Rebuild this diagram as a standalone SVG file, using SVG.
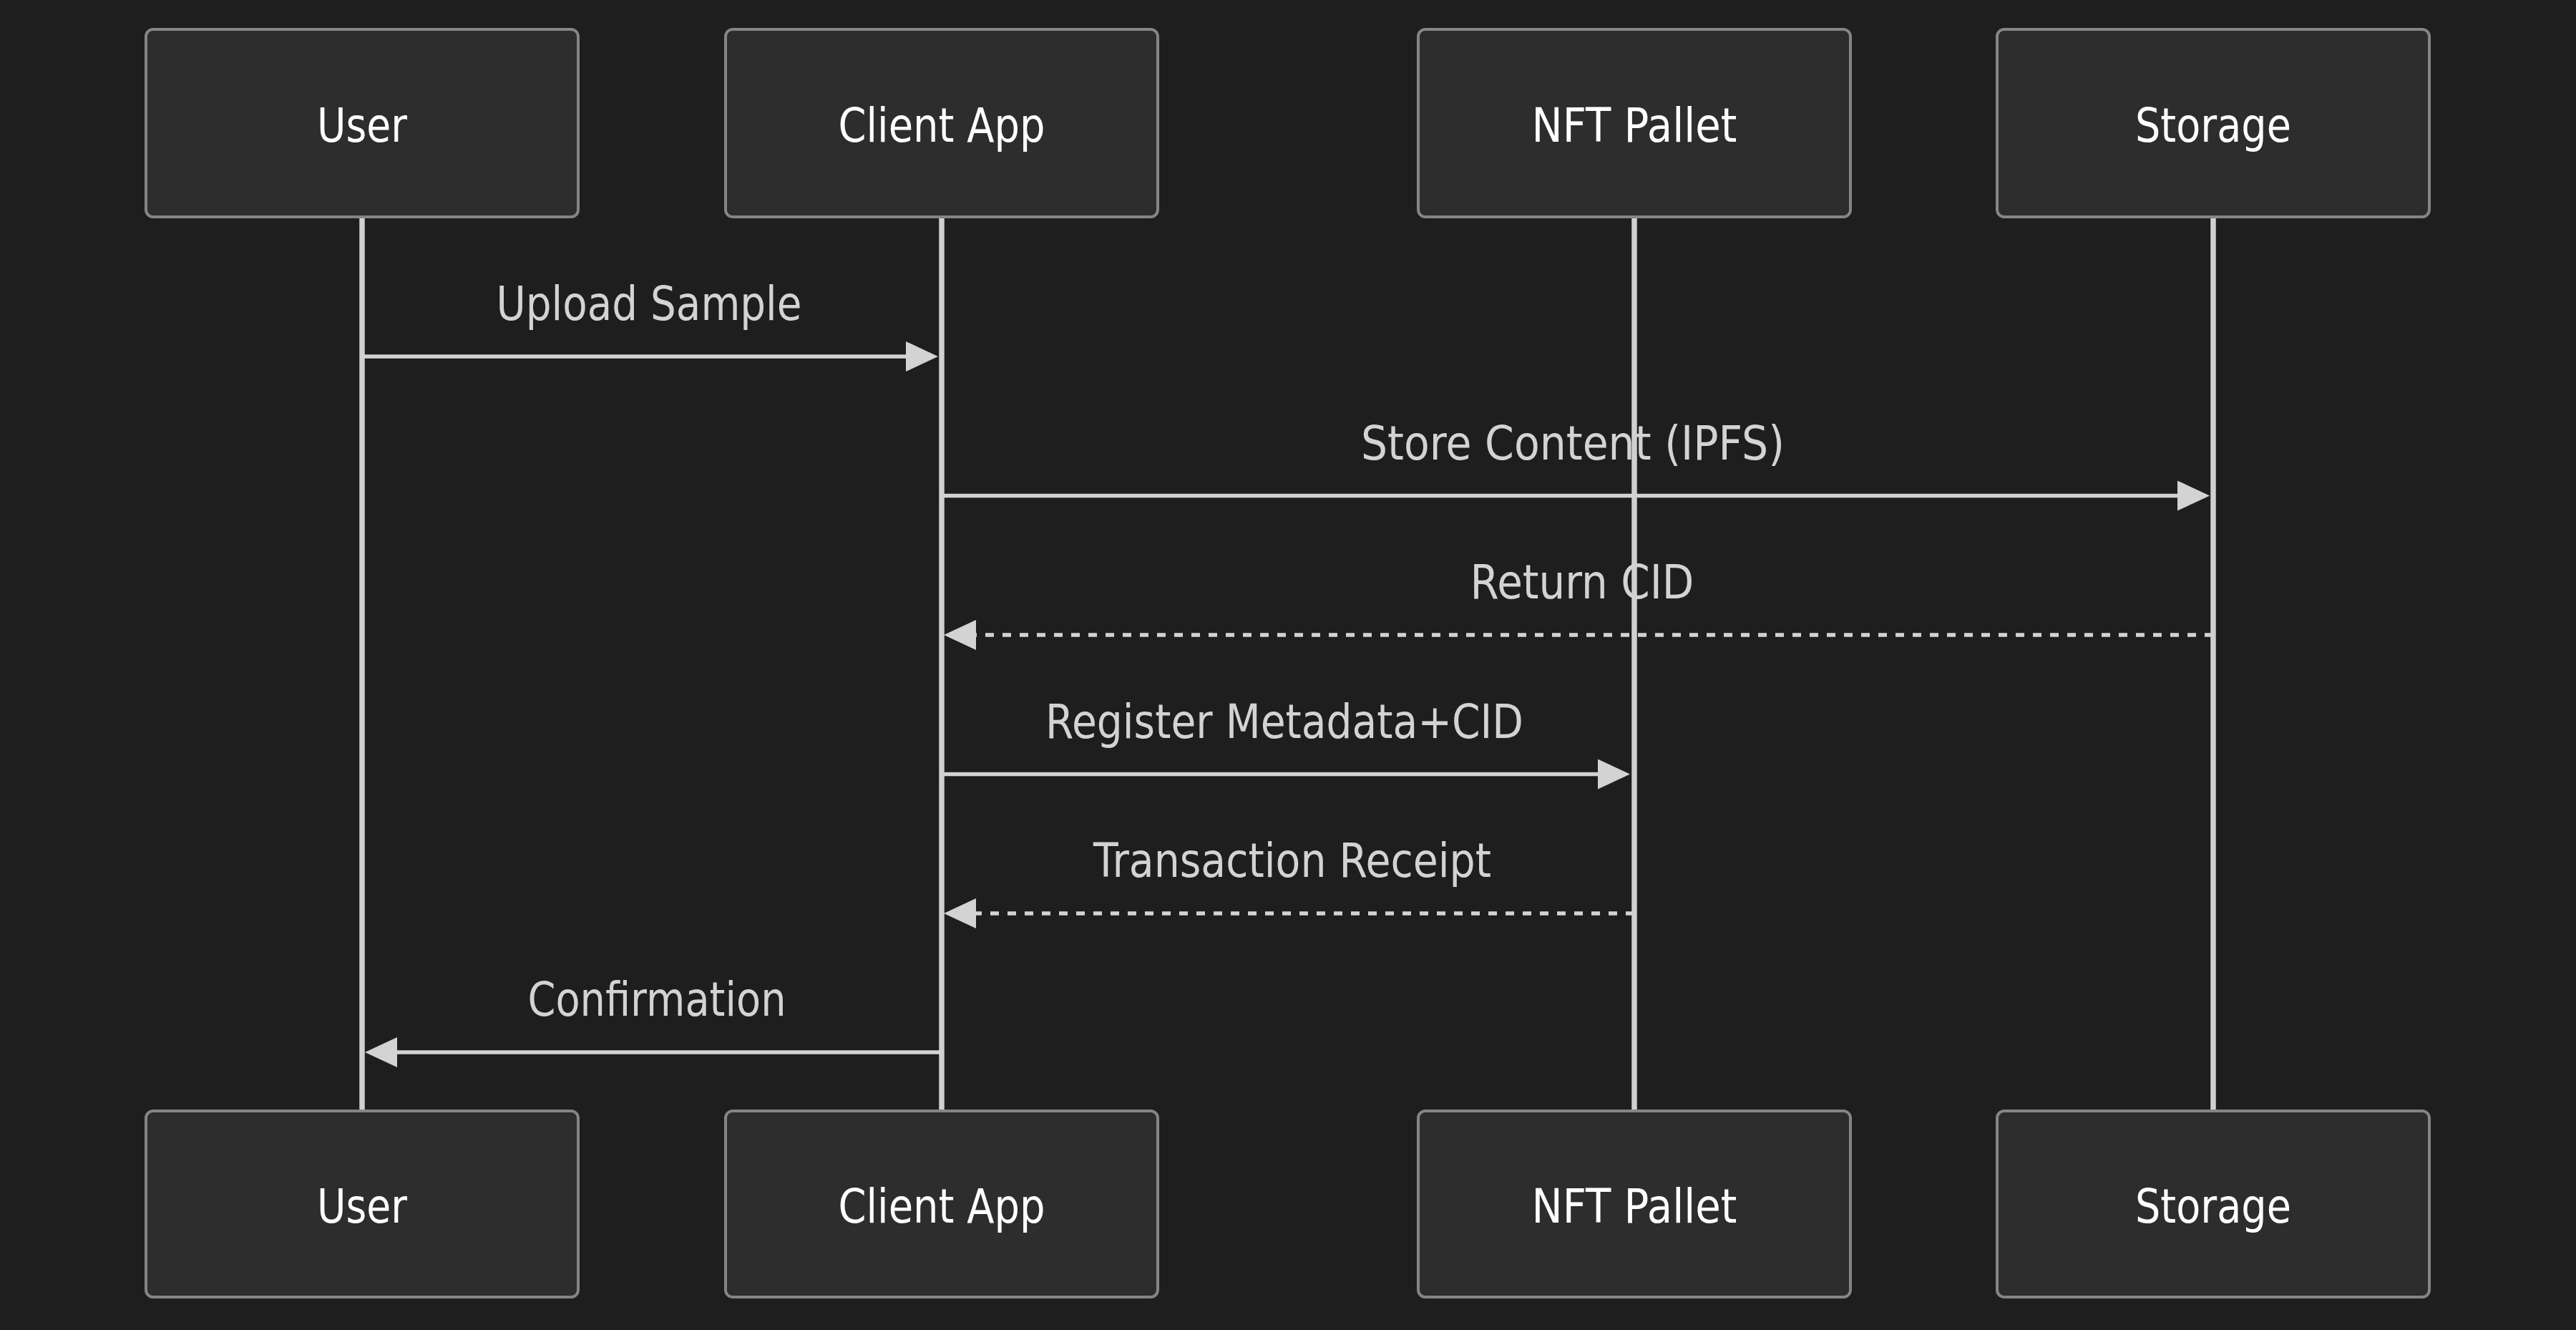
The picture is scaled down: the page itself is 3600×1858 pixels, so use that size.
<svg xmlns="http://www.w3.org/2000/svg" width="3600" height="1858" viewBox="0 0 3600 1858">
<defs>
<style>
.actor{fill:#2d2d2d;stroke:#858585;stroke-width:4}
.alabel{font-family:"DejaVu Sans","Liberation Sans",sans-serif;font-size:66px;fill:#ffffff;text-anchor:middle}
.life{stroke:#d0d0d0;stroke-width:7.5}
.msg{stroke:#d3d3d3;stroke-width:5.5;fill:none}
.dash{stroke-dasharray:12 12}
.mtext{font-family:"DejaVu Sans","Liberation Sans",sans-serif;font-size:66px;fill:#d3d3d3;text-anchor:middle}
</style>
<marker id="arrow" markerUnits="userSpaceOnUse" markerWidth="46" markerHeight="44" viewBox="0 0 46 44" refX="38" refY="22" orient="auto">
<path d="M0,1 L45,22 L0,43 Z" fill="#d3d3d3"/>
</marker>
</defs>
<rect width="3600" height="1858" fill="#1e1e1e"/>
<g id="lifelines">
<line class="life" x1="506" y1="305" x2="506" y2="1550"/>
<line class="life" x1="1316" y1="305" x2="1316" y2="1550"/>
<line class="life" x1="2284" y1="305" x2="2284" y2="1550"/>
<line class="life" x1="3093" y1="305" x2="3093" y2="1550"/>
</g>
<g id="user-top"><rect class="actor" x="204" y="41" width="604" height="262" rx="10"/><text class="alabel" x="506" y="198" textLength="126" lengthAdjust="spacingAndGlyphs">User</text></g>
<g id="client-top"><rect class="actor" x="1014" y="41" width="604" height="262" rx="10"/><text class="alabel" x="1316" y="198" textLength="289" lengthAdjust="spacingAndGlyphs">Client App</text></g>
<g id="nft-top"><rect class="actor" x="1982" y="41" width="604" height="262" rx="10"/><text class="alabel" x="2284" y="198" textLength="287" lengthAdjust="spacingAndGlyphs">NFT Pallet</text></g>
<g id="storage-top"><rect class="actor" x="2791" y="41" width="604" height="262" rx="10"/><text class="alabel" x="3093" y="198" textLength="218" lengthAdjust="spacingAndGlyphs">Storage</text></g>
<g id="user-bottom"><rect class="actor" x="204" y="1552" width="604" height="260" rx="10"/><text class="alabel" x="506" y="1708" textLength="126" lengthAdjust="spacingAndGlyphs">User</text></g>
<g id="client-bottom"><rect class="actor" x="1014" y="1552" width="604" height="260" rx="10"/><text class="alabel" x="1316" y="1708" textLength="289" lengthAdjust="spacingAndGlyphs">Client App</text></g>
<g id="nft-bottom"><rect class="actor" x="1982" y="1552" width="604" height="260" rx="10"/><text class="alabel" x="2284" y="1708" textLength="287" lengthAdjust="spacingAndGlyphs">NFT Pallet</text></g>
<g id="storage-bottom"><rect class="actor" x="2791" y="1552" width="604" height="260" rx="10"/><text class="alabel" x="3093" y="1708" textLength="218" lengthAdjust="spacingAndGlyphs">Storage</text></g>
<g id="connectors">
<line class="msg" x1="506" y1="498" x2="1304" y2="498" marker-end="url(#arrow)"/>
<line class="msg" x1="1316" y1="692.5" x2="3081" y2="692.5" marker-end="url(#arrow)"/>
<line class="msg dash" x1="3093" y1="887" x2="1326" y2="887" marker-end="url(#arrow)"/>
<line class="msg" x1="1316" y1="1081.5" x2="2271" y2="1081.5" marker-end="url(#arrow)"/>
<line class="msg dash" x1="2284" y1="1276" x2="1326" y2="1276" marker-end="url(#arrow)"/>
<line class="msg" x1="1316" y1="1470" x2="517" y2="1470" marker-end="url(#arrow)"/>
</g>
<g id="message-labels">
<text class="mtext" x="907" y="447" textLength="427" lengthAdjust="spacingAndGlyphs">Upload Sample</text>
<text class="mtext" x="2198" y="641.5" textLength="592" lengthAdjust="spacingAndGlyphs">Store Content (IPFS)</text>
<text class="mtext" x="2211" y="836" textLength="313" lengthAdjust="spacingAndGlyphs">Return CID</text>
<text class="mtext" x="1795" y="1030.5" textLength="668" lengthAdjust="spacingAndGlyphs">Register Metadata+CID</text>
<text class="mtext" x="1806" y="1225" textLength="556" lengthAdjust="spacingAndGlyphs">Transaction Receipt</text>
<text class="mtext" x="918" y="1419" textLength="361" lengthAdjust="spacingAndGlyphs">Confirmation</text>
</g>
</svg>
